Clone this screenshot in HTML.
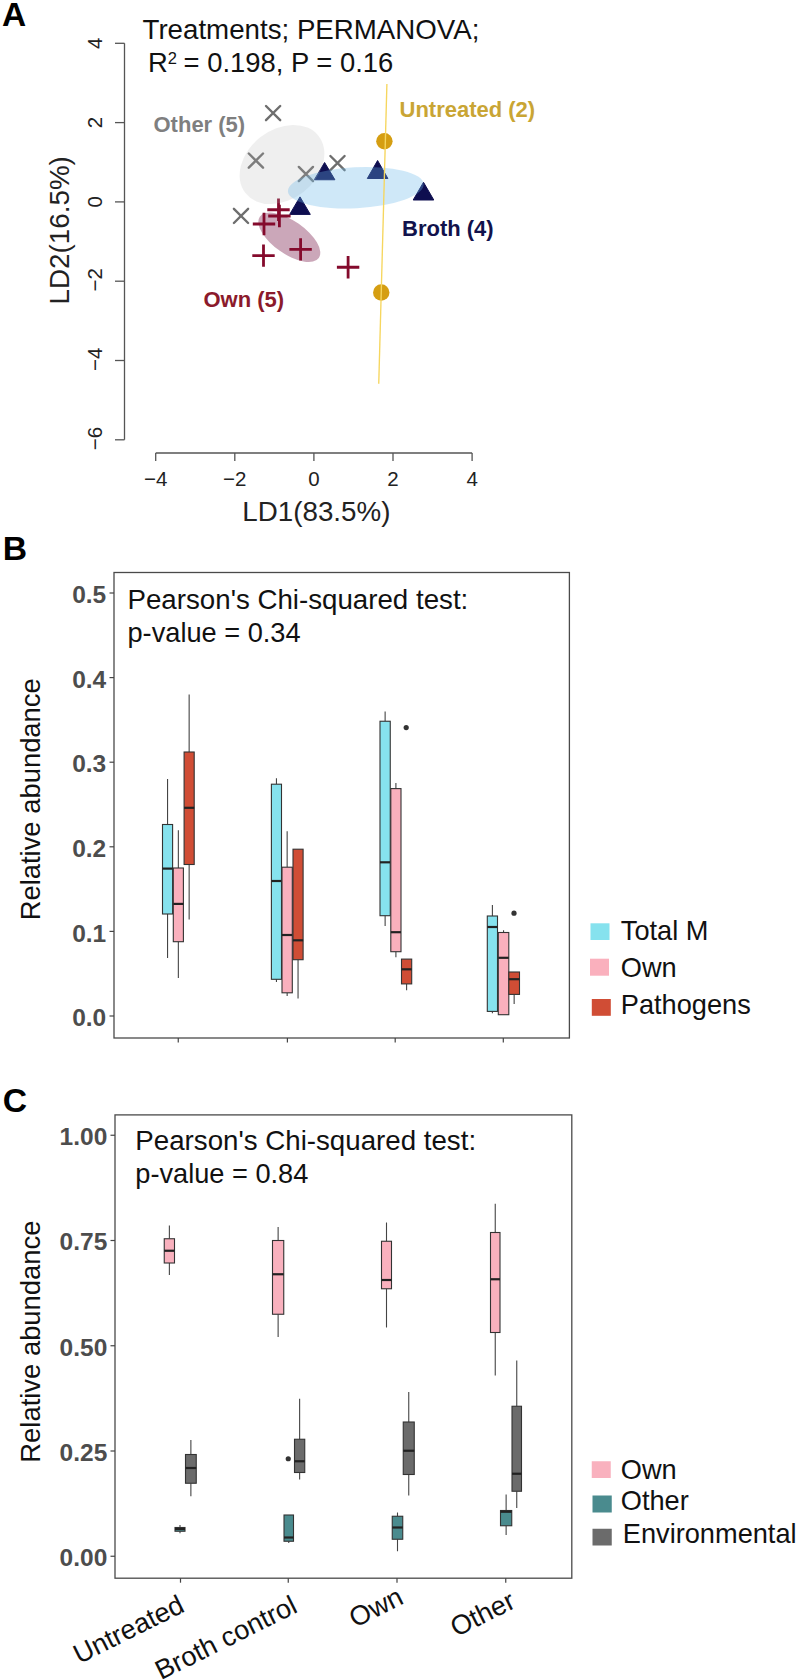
<!DOCTYPE html>
<html><head><meta charset="utf-8"><style>
html,body{margin:0;padding:0;background:#fff;width:800px;height:1680px;overflow:hidden}
svg{display:block}
text{font-family:"Liberation Sans", sans-serif}
</style></head><body>
<svg width="800" height="1680" viewBox="0 0 800 1680">
<rect width="800" height="1680" fill="#fff"/>
<text x="2" y="26.2" font-size="33.5" font-weight="bold" fill="#000" text-anchor="start" >A</text>
<line x1="124.5" y1="43.30000000000001" x2="124.5" y2="439.79999999999995" stroke="#555" stroke-width="1.3" />
<line x1="115" y1="43.30000000000001" x2="124.5" y2="43.30000000000001" stroke="#555" stroke-width="1.3" />
<text x="0" y="0" font-size="20.5" font-weight="normal" fill="#222" text-anchor="middle" transform="translate(101.7,43.30) rotate(-90)">4</text>
<line x1="115" y1="122.60000000000001" x2="124.5" y2="122.60000000000001" stroke="#555" stroke-width="1.3" />
<text x="0" y="0" font-size="20.5" font-weight="normal" fill="#222" text-anchor="middle" transform="translate(101.7,122.60) rotate(-90)">2</text>
<line x1="115" y1="201.9" x2="124.5" y2="201.9" stroke="#555" stroke-width="1.3" />
<text x="0" y="0" font-size="20.5" font-weight="normal" fill="#222" text-anchor="middle" transform="translate(101.7,201.90) rotate(-90)">0</text>
<line x1="115" y1="281.2" x2="124.5" y2="281.2" stroke="#555" stroke-width="1.3" />
<text x="0" y="0" font-size="20.5" font-weight="normal" fill="#222" text-anchor="middle" transform="translate(101.7,279.90) rotate(-90)">−2</text>
<line x1="115" y1="360.5" x2="124.5" y2="360.5" stroke="#555" stroke-width="1.3" />
<text x="0" y="0" font-size="20.5" font-weight="normal" fill="#222" text-anchor="middle" transform="translate(101.7,359.20) rotate(-90)">−4</text>
<line x1="115" y1="439.79999999999995" x2="124.5" y2="439.79999999999995" stroke="#555" stroke-width="1.3" />
<text x="0" y="0" font-size="20.5" font-weight="normal" fill="#222" text-anchor="middle" transform="translate(101.7,438.50) rotate(-90)">−6</text>
<line x1="155.7" y1="453" x2="472.09999999999997" y2="453" stroke="#555" stroke-width="1.3" />
<line x1="155.7" y1="453" x2="155.7" y2="461" stroke="#555" stroke-width="1.3" />
<text x="155.70" y="486" font-size="20.5" font-weight="normal" fill="#222" text-anchor="middle" >−4</text>
<line x1="234.79999999999998" y1="453" x2="234.79999999999998" y2="461" stroke="#555" stroke-width="1.3" />
<text x="234.80" y="486" font-size="20.5" font-weight="normal" fill="#222" text-anchor="middle" >−2</text>
<line x1="313.9" y1="453" x2="313.9" y2="461" stroke="#555" stroke-width="1.3" />
<text x="313.90" y="486" font-size="20.5" font-weight="normal" fill="#222" text-anchor="middle" >0</text>
<line x1="393.0" y1="453" x2="393.0" y2="461" stroke="#555" stroke-width="1.3" />
<text x="393.00" y="486" font-size="20.5" font-weight="normal" fill="#222" text-anchor="middle" >2</text>
<line x1="472.09999999999997" y1="453" x2="472.09999999999997" y2="461" stroke="#555" stroke-width="1.3" />
<text x="472.10" y="486" font-size="20.5" font-weight="normal" fill="#222" text-anchor="middle" >4</text>
<text x="316.4" y="520.5" font-size="27.75" font-weight="normal" fill="#222" text-anchor="middle" >LD1(83.5%)</text>
<text x="0" y="0" font-size="27.8" font-weight="normal" fill="#222" text-anchor="middle" transform="translate(69.3,230.3) rotate(-90)">LD2(16.5%)</text>
<text x="142.5" y="38.8" font-size="27.7" font-weight="normal" fill="#111" text-anchor="start" >Treatments; PERMANOVA;</text>
<text x="148" y="72" font-size="27.4" fill="#111">R<tspan font-size="16.5" dy="-8.5">2</tspan><tspan dy="8.5" dx="-1"> = 0.198, P = 0.16</tspan></text>
<path d="M266.0,106.0L280.20000000000005,120.19999999999999M266.0,120.19999999999999L280.20000000000005,106.0" stroke="#6e6e6e" stroke-width="2.4" stroke-linecap="round"/>
<path d="M248.8,153.5L263.0,167.7M248.8,167.7L263.0,153.5" stroke="#6e6e6e" stroke-width="2.4" stroke-linecap="round"/>
<path d="M298.79999999999995,166.9L313.0,181.1M298.79999999999995,181.1L313.0,166.9" stroke="#6e6e6e" stroke-width="2.4" stroke-linecap="round"/>
<path d="M330.4,156.0L344.6,170.2M330.4,170.2L344.6,156.0" stroke="#6e6e6e" stroke-width="2.4" stroke-linecap="round"/>
<path d="M233.9,208.8L248.1,223.0M233.9,223.0L248.1,208.8" stroke="#6e6e6e" stroke-width="2.4" stroke-linecap="round"/>
<path d="M324.6,162.5L334.90000000000003,179.75L314.3,179.75Z" fill="#0e0e50" stroke="#0e0e50" stroke-width="1" stroke-linejoin="round"/>
<path d="M377.6,160.5L387.90000000000003,178.5L367.3,178.5Z" fill="#0e0e50" stroke="#0e0e50" stroke-width="1" stroke-linejoin="round"/>
<path d="M423.5,182.3L433.8,200L413.2,200Z" fill="#0e0e50" stroke="#0e0e50" stroke-width="1" stroke-linejoin="round"/>
<path d="M300,196.9L310.3,214.4L289.7,214.4Z" fill="#0e0e50" stroke="#0e0e50" stroke-width="1" stroke-linejoin="round"/>
<ellipse cx="289.3" cy="237.3" rx="36" ry="16.5" transform="rotate(35 289.3 237.3)" fill="#8c3c64" fill-opacity="0.45"/>
<path d="M267.3,209.75L289.7,209.75M278.5,198.55L278.5,220.95" stroke="#840a2c" stroke-width="2.8" stroke-linecap="butt"/>
<path d="M268.2,216L290.59999999999997,216M279.4,204.8L279.4,227.2" stroke="#840a2c" stroke-width="2.8" stroke-linecap="butt"/>
<path d="M252.8,224L275.2,224M264,212.8L264,235.2" stroke="#840a2c" stroke-width="2.8" stroke-linecap="butt"/>
<path d="M252.3,255.6L274.7,255.6M263.5,244.4L263.5,266.8" stroke="#840a2c" stroke-width="2.8" stroke-linecap="butt"/>
<path d="M289.40000000000003,249.4L311.8,249.4M300.6,238.20000000000002L300.6,260.6" stroke="#840a2c" stroke-width="2.8" stroke-linecap="butt"/>
<path d="M336.90000000000003,267.25L359.3,267.25M348.1,256.05L348.1,278.45" stroke="#840a2c" stroke-width="2.8" stroke-linecap="butt"/>
<circle cx="384.4" cy="141.25" r="8.2" fill="#d59e12"/>
<circle cx="381.25" cy="292.5" r="8.2" fill="#d59e12"/>
<ellipse cx="282" cy="164.5" rx="46.4" ry="34.8" transform="rotate(-38 282 164.5)" fill="#b4b4b4" fill-opacity="0.22"/>
<ellipse cx="355.8" cy="187.7" rx="68" ry="20.5" transform="rotate(-3 355.8 187.7)" fill="#6bb6e8" fill-opacity="0.32"/>
<line x1="386.9" y1="84" x2="378.75" y2="383.75" stroke="#f6d65e" stroke-width="1.35" />
<text x="153.5" y="131.5" font-size="22" font-weight="bold" fill="#7f7f7f" text-anchor="start" >Other (5)</text>
<text x="399.5" y="116.8" font-size="22" font-weight="bold" fill="#c9a534" text-anchor="start" >Untreated (2)</text>
<text x="402" y="235.8" font-size="22" font-weight="bold" fill="#12124c" text-anchor="start" >Broth (4)</text>
<text x="203.5" y="307.3" font-size="22" font-weight="bold" fill="#8b1a2b" text-anchor="start" >Own (5)</text>
<text x="2.8" y="560" font-size="33.7" font-weight="bold" fill="#000" text-anchor="start" >B</text>
<rect x="114" y="572.5" width="455.4" height="465.5" fill="none" stroke="#4a4a4a" stroke-width="1.3"/>
<line x1="109.5" y1="593.0" x2="114" y2="593.0" stroke="#444" stroke-width="1.2" />
<text x="106.2" y="603.27" font-size="24.5" font-weight="bold" fill="#4d4d4d" text-anchor="end" >0.5</text>
<line x1="109.5" y1="677.5999999999999" x2="114" y2="677.5999999999999" stroke="#444" stroke-width="1.2" />
<text x="106.2" y="687.87" font-size="24.5" font-weight="bold" fill="#4d4d4d" text-anchor="end" >0.4</text>
<line x1="109.5" y1="762.2" x2="114" y2="762.2" stroke="#444" stroke-width="1.2" />
<text x="106.2" y="772.47" font-size="24.5" font-weight="bold" fill="#4d4d4d" text-anchor="end" >0.3</text>
<line x1="109.5" y1="846.8" x2="114" y2="846.8" stroke="#444" stroke-width="1.2" />
<text x="106.2" y="857.07" font-size="24.5" font-weight="bold" fill="#4d4d4d" text-anchor="end" >0.2</text>
<line x1="109.5" y1="931.4" x2="114" y2="931.4" stroke="#444" stroke-width="1.2" />
<text x="106.2" y="941.67" font-size="24.5" font-weight="bold" fill="#4d4d4d" text-anchor="end" >0.1</text>
<line x1="109.5" y1="1016.0" x2="114" y2="1016.0" stroke="#444" stroke-width="1.2" />
<text x="106.2" y="1026.27" font-size="24.5" font-weight="bold" fill="#4d4d4d" text-anchor="end" >0.0</text>
<line x1="178.25" y1="1038" x2="178.25" y2="1042.5" stroke="#444" stroke-width="1.2" />
<line x1="287.4" y1="1038" x2="287.4" y2="1042.5" stroke="#444" stroke-width="1.2" />
<line x1="395.2" y1="1038" x2="395.2" y2="1042.5" stroke="#444" stroke-width="1.2" />
<line x1="503.3" y1="1038" x2="503.3" y2="1042.5" stroke="#444" stroke-width="1.2" />
<text x="127.5" y="608.9" font-size="27.7" font-weight="normal" fill="#111" text-anchor="start" >Pearson's Chi-squared test:</text>
<text x="127.5" y="641.9" font-size="27.2" font-weight="normal" fill="#111" text-anchor="start" >p-value = 0.34</text>
<text x="0" y="0" font-size="27.4" font-weight="normal" fill="#111" text-anchor="middle" transform="translate(39.8,799.3) rotate(-90)">Relative abundance</text>
<line x1="167.55" y1="779" x2="167.55" y2="824.5" stroke="#444" stroke-width="1.1" />
<line x1="167.55" y1="914" x2="167.55" y2="957.9" stroke="#444" stroke-width="1.1" />
<rect x="162.5" y="824.5" width="10.099999999999994" height="89.5" fill="#86e2ee" stroke="#333" stroke-width="1.1"/>
<line x1="162.5" y1="868.6" x2="172.6" y2="868.6" stroke="#222" stroke-width="2.2" />
<line x1="178.35000000000002" y1="830.3" x2="178.35000000000002" y2="868" stroke="#444" stroke-width="1.1" />
<line x1="178.35000000000002" y1="941.7" x2="178.35000000000002" y2="978" stroke="#444" stroke-width="1.1" />
<rect x="173.3" y="868" width="10.099999999999994" height="73.70000000000005" fill="#fab0bd" stroke="#333" stroke-width="1.1"/>
<line x1="173.3" y1="903.9" x2="183.4" y2="903.9" stroke="#222" stroke-width="2.2" />
<line x1="189.14999999999998" y1="694.6" x2="189.14999999999998" y2="752" stroke="#444" stroke-width="1.1" />
<line x1="189.14999999999998" y1="864.5" x2="189.14999999999998" y2="919.6" stroke="#444" stroke-width="1.1" />
<rect x="184.1" y="752" width="10.099999999999994" height="112.5" fill="#d04d35" stroke="#333" stroke-width="1.1"/>
<line x1="184.1" y1="807.8" x2="194.2" y2="807.8" stroke="#222" stroke-width="2.2" />
<line x1="276.45" y1="778.3" x2="276.45" y2="784.2" stroke="#444" stroke-width="1.1" />
<line x1="276.45" y1="979.3" x2="276.45" y2="982" stroke="#444" stroke-width="1.1" />
<rect x="271.4" y="784.2" width="10.100000000000023" height="195.0999999999999" fill="#86e2ee" stroke="#333" stroke-width="1.1"/>
<line x1="271.4" y1="881" x2="281.5" y2="881" stroke="#222" stroke-width="2.2" />
<line x1="287.15" y1="831.2" x2="287.15" y2="867.2" stroke="#444" stroke-width="1.1" />
<line x1="287.15" y1="992.8" x2="287.15" y2="996" stroke="#444" stroke-width="1.1" />
<rect x="282" y="867.2" width="10.300000000000011" height="125.59999999999991" fill="#fab0bd" stroke="#333" stroke-width="1.1"/>
<line x1="282" y1="935" x2="292.3" y2="935" stroke="#222" stroke-width="2.2" />
<line x1="298.05" y1="959.7" x2="298.05" y2="998.4" stroke="#444" stroke-width="1.1" />
<rect x="293" y="849.2" width="10.100000000000023" height="110.5" fill="#d04d35" stroke="#333" stroke-width="1.1"/>
<line x1="293" y1="940.3" x2="303.1" y2="940.3" stroke="#222" stroke-width="2.2" />
<line x1="385.125" y1="711.6" x2="385.125" y2="721.25" stroke="#444" stroke-width="1.1" />
<line x1="385.125" y1="915.7" x2="385.125" y2="926.1" stroke="#444" stroke-width="1.1" />
<rect x="380" y="721.25" width="10.25" height="194.45000000000005" fill="#86e2ee" stroke="#333" stroke-width="1.1"/>
<line x1="380" y1="862.3" x2="390.25" y2="862.3" stroke="#222" stroke-width="2.2" />
<line x1="395.9" y1="783.1" x2="395.9" y2="788.6" stroke="#444" stroke-width="1.1" />
<line x1="395.9" y1="951.7" x2="395.9" y2="957.2" stroke="#444" stroke-width="1.1" />
<rect x="390.8" y="788.6" width="10.199999999999989" height="163.10000000000002" fill="#fab0bd" stroke="#333" stroke-width="1.1"/>
<line x1="390.8" y1="932.2" x2="401" y2="932.2" stroke="#222" stroke-width="2.2" />
<line x1="406.6" y1="983.9" x2="406.6" y2="990.2" stroke="#444" stroke-width="1.1" />
<rect x="401.5" y="959.1" width="10.199999999999989" height="24.799999999999955" fill="#d04d35" stroke="#333" stroke-width="1.1"/>
<line x1="401.5" y1="969.3" x2="411.7" y2="969.3" stroke="#222" stroke-width="2.2" />
<line x1="492.4" y1="905" x2="492.4" y2="916" stroke="#444" stroke-width="1.1" />
<line x1="492.4" y1="1011.4" x2="492.4" y2="1013.3" stroke="#444" stroke-width="1.1" />
<rect x="487.3" y="916" width="10.199999999999989" height="95.39999999999998" fill="#86e2ee" stroke="#333" stroke-width="1.1"/>
<line x1="487.3" y1="927" x2="497.5" y2="927" stroke="#222" stroke-width="2.2" />
<line x1="503.55" y1="930.3" x2="503.55" y2="932.5" stroke="#444" stroke-width="1.1" />
<rect x="498.3" y="932.5" width="10.5" height="82.20000000000005" fill="#fab0bd" stroke="#333" stroke-width="1.1"/>
<line x1="498.3" y1="957.8" x2="508.8" y2="957.8" stroke="#222" stroke-width="2.2" />
<line x1="514.15" y1="994.4" x2="514.15" y2="1004" stroke="#444" stroke-width="1.1" />
<rect x="508.8" y="972" width="10.699999999999989" height="22.399999999999977" fill="#d04d35" stroke="#333" stroke-width="1.1"/>
<line x1="508.8" y1="979.2" x2="519.5" y2="979.2" stroke="#222" stroke-width="2.2" />
<circle cx="406.2" cy="727.6" r="2.6" fill="#333"/>
<circle cx="514" cy="913.2" r="2.6" fill="#333"/>
<rect x="590.5" y="923.3" width="19.0" height="16.700000000000045" fill="#86e2ee"/>
<text x="620.8" y="939.6" font-size="27.2" font-weight="normal" fill="#111" text-anchor="start" >Total M</text>
<rect x="590" y="958.7" width="19" height="17.0" fill="#fab0bd"/>
<text x="620.8" y="977" font-size="27.2" font-weight="normal" fill="#111" text-anchor="start" >Own</text>
<rect x="591.8" y="999" width="19.0" height="16.799999999999955" fill="#d04d35"/>
<text x="620.8" y="1013.8" font-size="27.2" font-weight="normal" fill="#111" text-anchor="start" >Pathogens</text>
<text x="2.8" y="1112" font-size="33.7" font-weight="bold" fill="#000" text-anchor="start" >C</text>
<rect x="115" y="1114.9" width="456.79999999999995" height="463.29999999999995" fill="none" stroke="#4a4a4a" stroke-width="1.3"/>
<line x1="110.5" y1="1135.25" x2="115" y2="1135.25" stroke="#444" stroke-width="1.2" />
<text x="107.3" y="1145.02" font-size="24.5" font-weight="bold" fill="#4d4d4d" text-anchor="end" >1.00</text>
<line x1="110.5" y1="1240.5" x2="115" y2="1240.5" stroke="#444" stroke-width="1.2" />
<text x="107.3" y="1250.27" font-size="24.5" font-weight="bold" fill="#4d4d4d" text-anchor="end" >0.75</text>
<line x1="110.5" y1="1345.75" x2="115" y2="1345.75" stroke="#444" stroke-width="1.2" />
<text x="107.3" y="1355.52" font-size="24.5" font-weight="bold" fill="#4d4d4d" text-anchor="end" >0.50</text>
<line x1="110.5" y1="1451.0" x2="115" y2="1451.0" stroke="#444" stroke-width="1.2" />
<text x="107.3" y="1460.77" font-size="24.5" font-weight="bold" fill="#4d4d4d" text-anchor="end" >0.25</text>
<line x1="110.5" y1="1556.25" x2="115" y2="1556.25" stroke="#444" stroke-width="1.2" />
<text x="107.3" y="1566.02" font-size="24.5" font-weight="bold" fill="#4d4d4d" text-anchor="end" >0.00</text>
<line x1="180.5" y1="1578.2" x2="180.5" y2="1582.7" stroke="#444" stroke-width="1.2" />
<line x1="288.25" y1="1578.2" x2="288.25" y2="1582.7" stroke="#444" stroke-width="1.2" />
<line x1="397" y1="1578.2" x2="397" y2="1582.7" stroke="#444" stroke-width="1.2" />
<line x1="505.75" y1="1578.2" x2="505.75" y2="1582.7" stroke="#444" stroke-width="1.2" />
<text x="135.3" y="1150.3" font-size="27.7" font-weight="normal" fill="#111" text-anchor="start" >Pearson's Chi-squared test:</text>
<text x="135.3" y="1183.3" font-size="27.2" font-weight="normal" fill="#111" text-anchor="start" >p-value = 0.84</text>
<text x="0" y="0" font-size="27.4" font-weight="normal" fill="#111" text-anchor="middle" transform="translate(39.8,1341.6) rotate(-90)">Relative abundance</text>
<line x1="169.375" y1="1225.5" x2="169.375" y2="1238.75" stroke="#444" stroke-width="1.1" />
<line x1="169.375" y1="1263" x2="169.375" y2="1275" stroke="#444" stroke-width="1.1" />
<rect x="164.25" y="1238.75" width="10.25" height="24.25" fill="#f9b1be" stroke="#333" stroke-width="1.1"/>
<line x1="164.25" y1="1250.75" x2="174.5" y2="1250.75" stroke="#222" stroke-width="2.2" />
<line x1="180.0" y1="1525" x2="180.0" y2="1527.5" stroke="#444" stroke-width="1.1" />
<line x1="180.0" y1="1531.25" x2="180.0" y2="1533.3" stroke="#444" stroke-width="1.1" />
<rect x="175" y="1527.5" width="10" height="3.75" fill="#4a8b8e" stroke="#333" stroke-width="1.1"/>
<line x1="175" y1="1529" x2="185" y2="1529" stroke="#222" stroke-width="2.2" />
<line x1="190.875" y1="1440" x2="190.875" y2="1454.5" stroke="#444" stroke-width="1.1" />
<line x1="190.875" y1="1483.25" x2="190.875" y2="1496.25" stroke="#444" stroke-width="1.1" />
<rect x="185.5" y="1454.5" width="10.75" height="28.75" fill="#6b6b6b" stroke="#333" stroke-width="1.1"/>
<line x1="185.5" y1="1468" x2="196.25" y2="1468" stroke="#222" stroke-width="2.2" />
<line x1="278.125" y1="1227" x2="278.125" y2="1240.5" stroke="#444" stroke-width="1.1" />
<line x1="278.125" y1="1314.25" x2="278.125" y2="1337" stroke="#444" stroke-width="1.1" />
<rect x="272.5" y="1240.5" width="11.25" height="73.75" fill="#f9b1be" stroke="#333" stroke-width="1.1"/>
<line x1="272.5" y1="1274.25" x2="283.75" y2="1274.25" stroke="#222" stroke-width="2.2" />
<line x1="288.75" y1="1541.25" x2="288.75" y2="1543" stroke="#444" stroke-width="1.1" />
<rect x="284" y="1515" width="9.5" height="26.25" fill="#4a8b8e" stroke="#333" stroke-width="1.1"/>
<line x1="284" y1="1537.5" x2="293.5" y2="1537.5" stroke="#222" stroke-width="2.2" />
<line x1="299.625" y1="1398.75" x2="299.625" y2="1439.25" stroke="#444" stroke-width="1.1" />
<line x1="299.625" y1="1472.5" x2="299.625" y2="1479.5" stroke="#444" stroke-width="1.1" />
<rect x="294.5" y="1439.25" width="10.25" height="33.25" fill="#6b6b6b" stroke="#333" stroke-width="1.1"/>
<line x1="294.5" y1="1461.25" x2="304.75" y2="1461.25" stroke="#222" stroke-width="2.2" />
<line x1="386.5" y1="1222.5" x2="386.5" y2="1241.25" stroke="#444" stroke-width="1.1" />
<line x1="386.5" y1="1288.75" x2="386.5" y2="1327.5" stroke="#444" stroke-width="1.1" />
<rect x="381.5" y="1241.25" width="10.0" height="47.5" fill="#f9b1be" stroke="#333" stroke-width="1.1"/>
<line x1="381.5" y1="1280" x2="391.5" y2="1280" stroke="#222" stroke-width="2.2" />
<line x1="397.5" y1="1512.5" x2="397.5" y2="1516.25" stroke="#444" stroke-width="1.1" />
<line x1="397.5" y1="1539.25" x2="397.5" y2="1551.25" stroke="#444" stroke-width="1.1" />
<rect x="392.25" y="1516.25" width="10.5" height="23.0" fill="#4a8b8e" stroke="#333" stroke-width="1.1"/>
<line x1="392.25" y1="1527.5" x2="402.75" y2="1527.5" stroke="#222" stroke-width="2.2" />
<line x1="408.75" y1="1392" x2="408.75" y2="1422" stroke="#444" stroke-width="1.1" />
<line x1="408.75" y1="1474.5" x2="408.75" y2="1495.5" stroke="#444" stroke-width="1.1" />
<rect x="403.25" y="1422" width="11.0" height="52.5" fill="#6b6b6b" stroke="#333" stroke-width="1.1"/>
<line x1="403.25" y1="1450.75" x2="414.25" y2="1450.75" stroke="#222" stroke-width="2.2" />
<line x1="495.25" y1="1203.75" x2="495.25" y2="1232.5" stroke="#444" stroke-width="1.1" />
<line x1="495.25" y1="1332.5" x2="495.25" y2="1375.5" stroke="#444" stroke-width="1.1" />
<rect x="490.5" y="1232.5" width="9.5" height="100.0" fill="#f9b1be" stroke="#333" stroke-width="1.1"/>
<line x1="490.5" y1="1279.25" x2="500" y2="1279.25" stroke="#222" stroke-width="2.2" />
<line x1="506.125" y1="1494.5" x2="506.125" y2="1510.5" stroke="#444" stroke-width="1.1" />
<line x1="506.125" y1="1525.75" x2="506.125" y2="1535" stroke="#444" stroke-width="1.1" />
<rect x="500.5" y="1510.5" width="11.25" height="15.25" fill="#4a8b8e" stroke="#333" stroke-width="1.1"/>
<line x1="500.5" y1="1511.75" x2="511.75" y2="1511.75" stroke="#222" stroke-width="2.2" />
<line x1="516.75" y1="1360.5" x2="516.75" y2="1406.25" stroke="#444" stroke-width="1.1" />
<line x1="516.75" y1="1491.25" x2="516.75" y2="1508" stroke="#444" stroke-width="1.1" />
<rect x="512" y="1406.25" width="9.5" height="85.0" fill="#6b6b6b" stroke="#333" stroke-width="1.1"/>
<line x1="512" y1="1473.75" x2="521.5" y2="1473.75" stroke="#222" stroke-width="2.2" />
<circle cx="288.25" cy="1458.75" r="2.6" fill="#333"/>
<rect x="591.75" y="1461.25" width="19.0" height="16.75" fill="#f9b1be"/>
<text x="620.8" y="1479.4" font-size="27.2" font-weight="normal" fill="#111" text-anchor="start" >Own</text>
<rect x="592.5" y="1495.5" width="19.25" height="17.0" fill="#4a8b8e"/>
<text x="620.8" y="1509.6" font-size="27.2" font-weight="normal" fill="#111" text-anchor="start" >Other</text>
<rect x="592.5" y="1528.75" width="19.25" height="16.75" fill="#6b6b6b"/>
<text x="622.8" y="1542.6" font-size="27.2" font-weight="normal" fill="#111" text-anchor="start" >Environmental</text>
<text x="0" y="0" font-size="27.2" font-weight="normal" fill="#111" text-anchor="end" transform="translate(186,1611) rotate(-26.5)">Untreated</text>
<text x="0" y="0" font-size="27.2" font-weight="normal" fill="#111" text-anchor="end" transform="translate(299,1611.5) rotate(-26.5)">Broth control</text>
<text x="0" y="0" font-size="27.2" font-weight="normal" fill="#111" text-anchor="end" transform="translate(405,1603) rotate(-26.5)">Own</text>
<text x="0" y="0" font-size="27.2" font-weight="normal" fill="#111" text-anchor="end" transform="translate(517,1607) rotate(-26.5)">Other</text>
</svg>
</body></html>
